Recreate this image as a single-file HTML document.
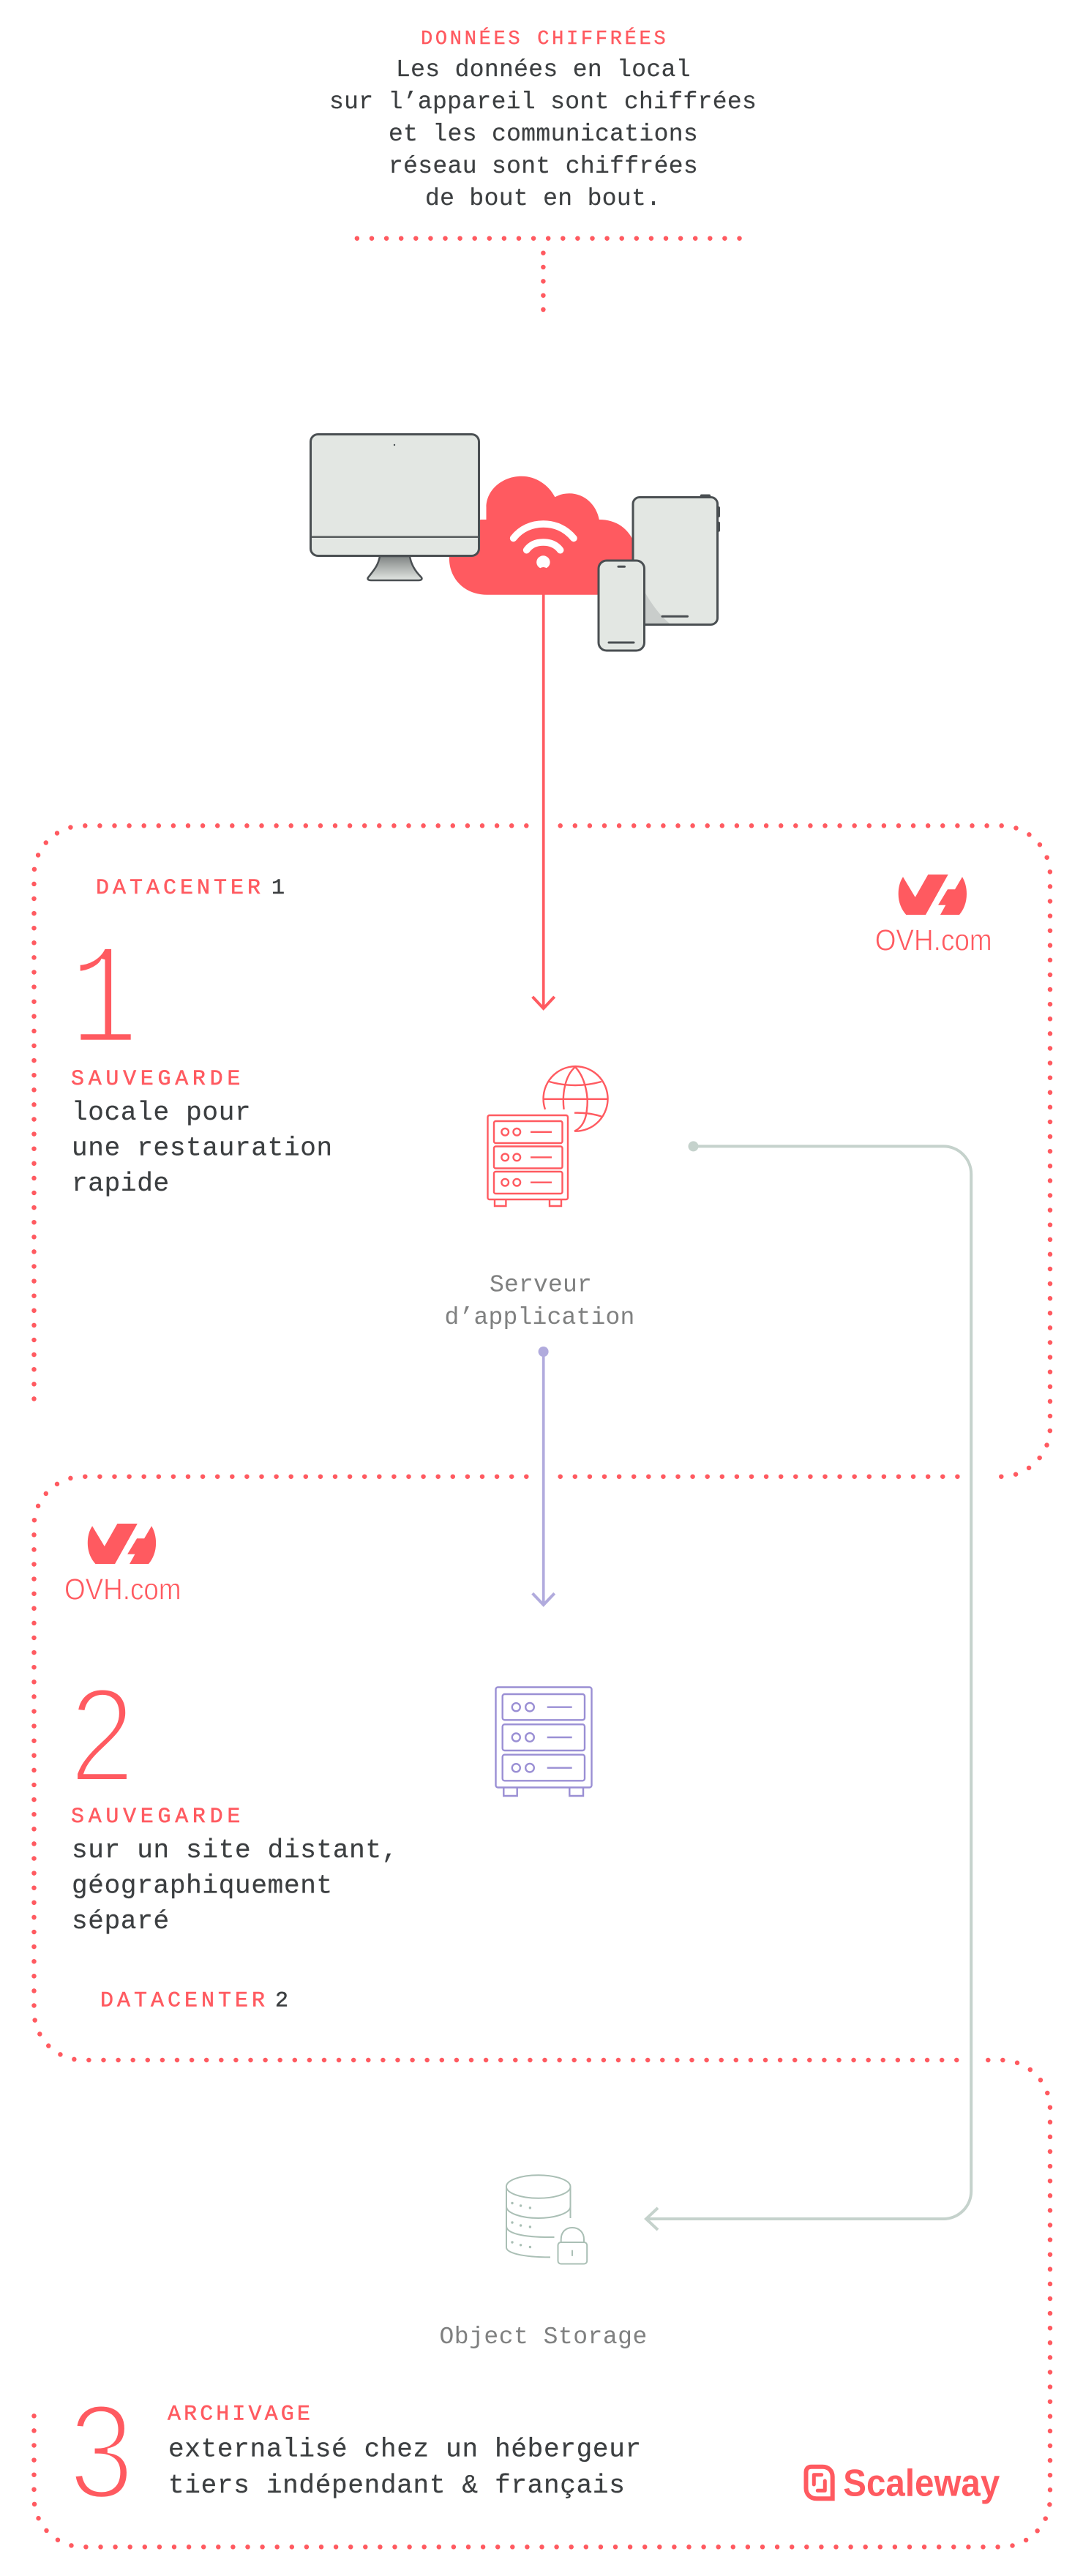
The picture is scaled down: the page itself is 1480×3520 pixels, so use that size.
<!DOCTYPE html>
<html lang="fr">
<head>
<meta charset="utf-8">
<title>Sauvegardes</title>
<style>
html,body{margin:0;padding:0;background:#fff;}
svg{display:block;}
.m{font-family:"Liberation Mono",monospace;}
.red{fill:#ff5a60;stroke:#ff5a60;stroke-width:.5px;font-size:30px;letter-spacing:5.7px;}
.dark{fill:#3c3f41;stroke:#3c3f41;stroke-width:.25px;font-size:36px;letter-spacing:.7px;}
.top{fill:#3c3f41;stroke:#3c3f41;stroke-width:.2px;font-size:33px;letter-spacing:.34px;}
.grey{fill:#7f8080;font-size:33px;letter-spacing:.2px;}
.num{fill:#3c3f41;stroke:#3c3f41;stroke-width:.5px;font-size:30px;}
.big{fill:#ff5a60;stroke:#fff;stroke-width:7px;}
.dots{fill:none;stroke:#ff5a60;stroke-width:6.5;stroke-linecap:round;stroke-dasharray:0 20.1;}
.ovh{font-family:"Liberation Sans",sans-serif;font-size:41px;fill:#ff5a60;stroke:#fff;stroke-width:.7px;}
</style>
</head>
<body>
<svg width="1480" height="3520" viewBox="0 0 1480 3520" xmlns="http://www.w3.org/2000/svg">
<defs>
<linearGradient id="st" x1="0" y1="0" x2="0" y2="1"><stop offset="0" stop-color="#7f8483"/><stop offset="1" stop-color="#e3e7e3"/></linearGradient>
<radialGradient id="ts" cx="0" cy="1" r=".42"><stop offset="0" stop-color="#a3a9a6"/><stop offset=".6" stop-color="#d9ddd9"/><stop offset="1" stop-color="#e3e7e3"/></radialGradient>
<g id="ovhlogo" fill="#ff5a60">
<path d="M1234 1198.3C1229.5 1205 1227.7 1213 1227.7 1221.7C1227.7 1233 1232 1243 1238.3 1250H1265L1295.7 1195H1268.3L1250.7 1226Z"/>
<path d="M1315 1198.3C1319 1205 1321 1213 1321 1221.7C1321 1233 1317 1243 1311 1250H1285L1292.3 1236.7H1282L1295 1215.3H1305Z"/>
</g>
</defs>

<!-- dotted frames -->
<path class="dots" d="M487.9 325.7H1015"/>
<path class="dots" style="stroke-dasharray:0 19.33" d="M742.4 345.7V425"/>
<path class="dots" d="M719.3 1128.3H113.5A67 67 0 0 0 46.5 1195.3V1915"/>
<path class="dots" d="M765.7 1128.3H1368A67 67 0 0 1 1435 1195.3V1950.7A67 67 0 0 1 1368 2017.7H1350"/>
<path class="dots" d="M719.3 2017.7H113.5A67 67 0 0 0 46.5 2084.7V2748A67 67 0 0 0 113.5 2815H1311"/>
<path class="dots" d="M765.7 2017.7H1311"/>
<path class="dots" d="M1350.3 2815H1368A67 67 0 0 1 1435 2882V3413.3A67 67 0 0 1 1368 3480.3H113.5A67 67 0 0 1 46.5 3413.3V3300"/>

<!-- top text -->
<text class="m" x="575" y="60" style="fill:#ff5a60;stroke:#ff5a60;stroke-width:.4px;font-size:27px;letter-spacing:3.7px">DONNÉES CHIFFRÉES</text>
<text class="m top" x="541" y="104">Les données en local</text>
<text class="m top" x="450" y="148">sur l’appareil sont chiffrées</text>
<text class="m top" x="531" y="192">et les communications</text>
<text class="m top" x="531" y="236">réseau sont chiffrées</text>
<text class="m top" x="581" y="280">de bout en bout.</text>

<!-- cloud -->
<path fill="#ff5a60" d="M665.7 812.7C634 812.7 613.9 790 613.9 763C613.9 735 634 712 657.6 710H664.5V693C664.5 670 686 650.7 712.7 650.7C733 650.7 750 663 758.4 679.3C764 676 771 674.3 778 674.3C799 674.3 815 690 818.8 710C842 710 860 722 868 745V812.7Z"/>
<path fill="none" stroke="#fff" stroke-width="9.5" stroke-linecap="round" d="M701.6 735.5C712 722 727 716 742.4 716C758 716 773 722 784 735.5"/>
<path fill="none" stroke="#fff" stroke-width="9.5" stroke-linecap="round" d="M719.6 751.7C725 744 733 741 742.4 741C752 741 760 744 765.7 751.7"/>
<ellipse cx="742.4" cy="768.3" rx="9.2" ry="9" fill="#fff"/>
<path fill="#ff5a60" d="M736 778Q742.5 772 749 778Z"/>

<!-- monitor -->
<path d="M519 760H560C562 773 569 782 575 788C578 791 576 793 572 793H507C503 793 501 791 504 788C510 780 517 773 519 760Z" fill="url(#st)" stroke="#4a4f52" stroke-width="2.5" stroke-linejoin="round"/>
<rect x="424.5" y="593.5" width="230" height="166" rx="10" fill="#e3e7e3" stroke="#4a4f52" stroke-width="3"/>
<line x1="426" y1="733.7" x2="653" y2="733.7" stroke="#5a5f60" stroke-width="2.6"/>
<circle cx="539" cy="608" r="1.2" fill="#4a4f52"/>

<!-- tablet -->
<rect x="956.7" y="675.5" width="14.5" height="6" rx="2" fill="#4a4f52"/>
<rect x="979" y="692" width="5" height="15" rx="2" fill="#4a4f52"/>
<rect x="979" y="712.7" width="5" height="14" rx="2" fill="#4a4f52"/>
<rect x="865" y="679.5" width="115.5" height="174" rx="9" fill="#e3e7e3" stroke="#4a4f52" stroke-width="3"/>
<rect x="866.5" y="760" width="70" height="92" fill="url(#ts)" opacity="0"/>
<path d="M866.5 780V843A9 9 0 0 0 875 852H915C895 835 880 810 866.5 780Z" fill="#c2c7c4" opacity=".8"/>
<line x1="905" y1="842.3" x2="939.5" y2="842.3" stroke="#4a4f52" stroke-width="3" stroke-linecap="round"/>

<!-- phone -->
<rect x="818" y="766" width="62.5" height="123" rx="11" fill="#e3e7e3" stroke="#4a4f52" stroke-width="3"/>
<line x1="845" y1="774.2" x2="853.5" y2="774.2" stroke="#4a4f52" stroke-width="3" stroke-linecap="round"/>
<line x1="832" y1="878" x2="866" y2="878" stroke="#4a4f52" stroke-width="3" stroke-linecap="round"/>

<!-- connectors -->
<line x1="742.7" y1="777" x2="742.7" y2="1379" stroke="#ff5a60" stroke-width="3.7"/>
<path d="M727.7 1362L742.7 1378L757.7 1362" fill="none" stroke="#ff5a60" stroke-width="4"/>
<circle cx="742.6" cy="1847" r="7" fill="#b1abdd"/>
<line x1="742.7" y1="1847" x2="742.7" y2="2194" stroke="#b1abdd" stroke-width="3.7"/>
<path d="M727.7 2177.3L742.7 2193L757.7 2177.3" fill="none" stroke="#b1abdd" stroke-width="4"/>
<circle cx="947.5" cy="1566.4" r="7" fill="#c5d2cc"/>
<path d="M948 1566.4H1289A38 38 0 0 1 1327.2 1604.4V2994A38 38 0 0 1 1289 3032H884" fill="none" stroke="#c5d2cc" stroke-width="4"/>
<path d="M899 3017L883 3032L899 3047" fill="none" stroke="#c5d2cc" stroke-width="4"/>

<!-- DC1 texts -->
<text class="m red" x="131" y="1221" style="letter-spacing:5px">DATACENTER</text>
<text class="m num" x="371" y="1221">1</text>
<text class="m big" transform="translate(96 1424) scale(.78 1)" x="0" y="0" font-size="198" style="stroke-width:6.5px">1</text>
<text class="m red" x="97" y="1482">SAUVEGARDE</text>
<text class="m dark" x="98" y="1530">locale pour</text>
<text class="m dark" x="98" y="1578.5">une restauration</text>
<text class="m dark" x="98" y="1627">rapide</text>

<!-- OVH 1 -->
<use href="#ovhlogo"/>
<text class="ovh" x="1195.7" y="1298.3" textLength="160" lengthAdjust="spacingAndGlyphs">OVH.com</text>

<!-- red server + globe -->
<g fill="none" stroke="#ff5a60" stroke-width="2.4">
<path d="M745 1516A44 44.3 0 1 1 785 1545.7"/>
<path d="M770.6 1516C768 1495 772 1470 786 1458C798 1470 805 1495 802 1516C801 1528 797 1540 785 1545.7"/>
<path d="M742 1501.8H830"/>
<path d="M750.5 1478Q786 1488 822 1478"/>
<path d="M785 1520.7Q805 1520 822 1525.7"/>
<rect x="666.5" y="1524" width="109.5" height="115" rx="2.5"/>
<rect x="675" y="1532" width="93.5" height="30" rx="2.5"/>
<rect x="675" y="1566.5" width="93.5" height="30" rx="2.5"/>
<rect x="675" y="1601" width="93.5" height="30" rx="2.5"/>
<circle cx="690.2" cy="1546.8" r="4.8"/><circle cx="706.3" cy="1546.8" r="4.8"/>
<circle cx="690.2" cy="1581.4" r="4.8"/><circle cx="706.3" cy="1581.4" r="4.8"/>
<circle cx="690.2" cy="1615.7" r="4.8"/><circle cx="706.3" cy="1615.7" r="4.8"/>
<path d="M725 1546.8H754M725 1581.4H754M725 1615.7H754"/>
<path d="M676 1639V1648H691.4V1639M751 1639V1648H767V1639"/>
</g>
<text class="m grey" x="669" y="1764.5">Serveur</text>
<text class="m grey" x="607.5" y="1809">d’application</text>

<!-- OVH 2 -->
<use href="#ovhlogo" transform="translate(-1107.9 887)"/>
<text class="ovh" x="88" y="2185.5" textLength="159.5" lengthAdjust="spacingAndGlyphs">OVH.com</text>

<!-- purple server -->
<g fill="none" stroke="#9a8fd4" stroke-width="2.4">
<rect x="677.5" y="2305.5" width="131" height="137" rx="3"/>
<rect x="686.7" y="2315" width="112.3" height="35.3" rx="3"/>
<rect x="686.7" y="2356.3" width="112.3" height="35.7" rx="3"/>
<rect x="686.7" y="2397.7" width="112.3" height="35.6" rx="3"/>
<circle cx="705.3" cy="2332.7" r="5.5"/><circle cx="724" cy="2332.7" r="5.8"/>
<circle cx="705.3" cy="2374" r="5.5"/><circle cx="724" cy="2374" r="5.8"/>
<circle cx="705.3" cy="2415.7" r="5.5"/><circle cx="724" cy="2415.7" r="5.8"/>
<path d="M747.7 2332.7H781.7M747.7 2374H781.7M747.7 2415.7H781.7"/>
<path d="M688.3 2442.7V2454H706.7V2442.7M778.3 2442.7V2454H797V2442.7"/>
</g>

<!-- DC2 texts -->
<text class="big" style="font-family:'Liberation Sans',sans-serif" transform="translate(95 2434.5) scale(.87 1)" x="0" y="0" font-size="184">2</text>
<text class="m red" x="97" y="2490">SAUVEGARDE</text>
<text class="m dark" x="98" y="2538">sur un site distant,</text>
<text class="m dark" x="98" y="2586.5">géographiquement</text>
<text class="m dark" x="98" y="2635">séparé</text>
<text class="m red" x="137" y="2741.5" style="letter-spacing:5px">DATACENTER</text>
<text class="m num" x="376" y="2741.5">2</text>

<!-- object storage -->
<g fill="none" stroke="#aabfb5" stroke-width="2">
<ellipse cx="735.7" cy="2988" rx="43.8" ry="15.8"/>
<path d="M692 2988V3071C692 3078 712 3084.4 752 3084.4"/>
<path d="M779.5 2988V3031"/>
<path d="M692 3015C692 3024 712 3031 735.7 3031C759 3031 779.5 3024 779.5 3015"/>
<path d="M692 3042C692 3051 712 3057.6 757.5 3057"/>
<rect x="762.5" y="3064" width="39.7" height="29.5" rx="4"/>
<path d="M766.7 3064V3060C766.7 3050 773 3044 782 3044C791 3044 798 3050 798 3060V3064"/>
<path d="M782 3074.7V3082.8"/>
</g>
<g fill="#aabfb5">
<circle cx="700" cy="3010.5" r="1.7"/><circle cx="711.6" cy="3014" r="1.7"/><circle cx="724.4" cy="3017" r="1.7"/>
<circle cx="700" cy="3037" r="1.7"/><circle cx="711.6" cy="3041" r="1.7"/><circle cx="724.4" cy="3043" r="1.7"/>
<circle cx="700" cy="3064" r="1.7"/><circle cx="711.6" cy="3067.8" r="1.7"/><circle cx="724.4" cy="3070.5" r="1.7"/>
</g>
<text class="m grey" x="600.5" y="3202" style="letter-spacing:.5px">Object Storage</text>

<!-- DC3 texts -->
<text class="big" style="font-family:'Liberation Sans',sans-serif" transform="translate(94 3413.5) scale(.87 1)" x="0" y="0" font-size="184">3</text>
<text class="m red" x="229" y="3306.5" style="letter-spacing:4.1px">ARCHIVAGE</text>
<text class="m dark" x="230" y="3356.5">externalisé chez un hébergeur</text>
<text class="m dark" x="230" y="3405.8">tiers indépendant &amp; français</text>

<!-- Scaleway -->
<path d="M1101.5 3378.5C1101.5 3373.5 1104 3370.7 1109 3370.7H1124C1132 3370.7 1137.7 3376 1137.7 3384.5V3414.3H1116C1107 3414.3 1101.5 3408 1101.5 3400Z" fill="none" stroke="#ff5a60" stroke-width="6"/>
<path d="M1112.3 3395V3381.7H1122.7M1127.3 3390V3403.3H1117.3" fill="none" stroke="#ff5a60" stroke-width="5" stroke-linecap="round" stroke-linejoin="round"/>
<text x="1152.3" y="3410.7" textLength="214" lengthAdjust="spacingAndGlyphs" style="font-family:'Liberation Sans',sans-serif;font-weight:bold;font-size:52px;fill:#ff5a60">Scaleway</text>
</svg>
</body>
</html>
